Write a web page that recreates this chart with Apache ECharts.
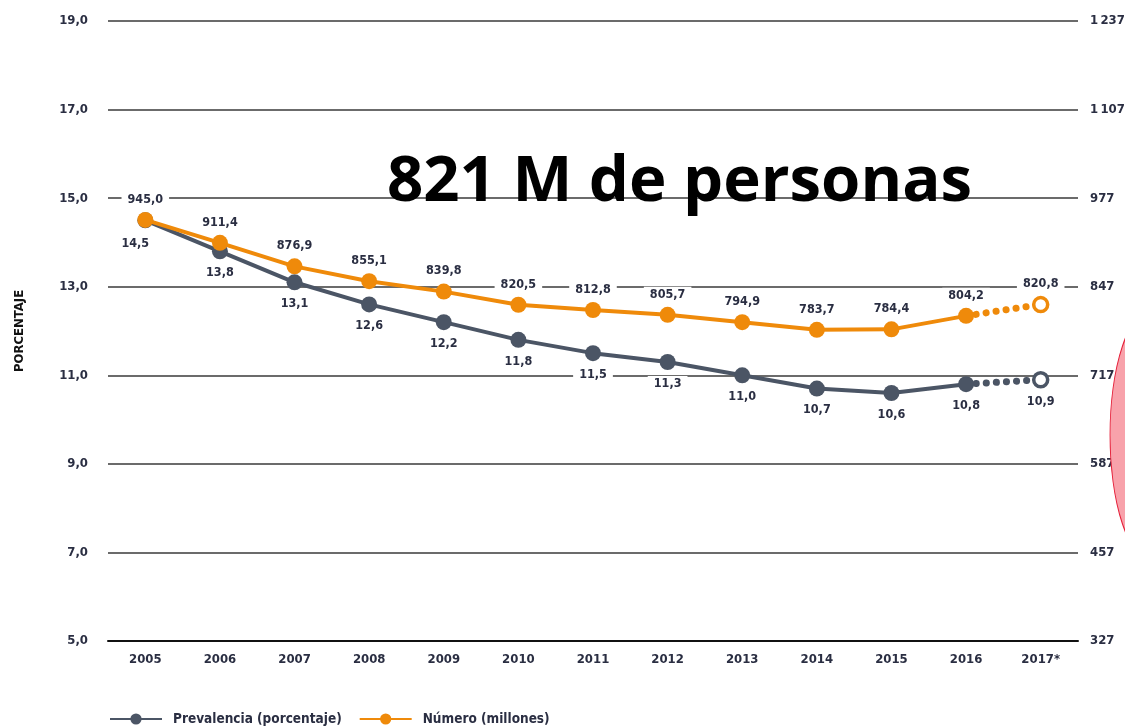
<!DOCTYPE html>
<html><head><meta charset="utf-8">
<script src="https://cdn.jsdelivr.net/npm/echarts@6/dist/echarts.min.js"></script>
<style>html,body{margin:0;padding:0;background:#fff}#c{width:1125px;height:728px}</style>
</head><body><div id="c"></div>
<script>
const years = ['2005','2006','2007','2008','2009','2010','2011','2012','2013','2014','2015','2016','2017*'];
const prevalencia = [14.5, 13.8, 13.1, 12.6, 12.2, 11.8, 11.5, 11.3, 11.0, 10.7, 10.6, 10.8, 10.9];
const numero = [945.0, 911.4, 876.9, 855.1, 839.8, 820.5, 812.8, 805.7, 794.9, 783.7, 784.4, 804.2, 820.8];
const leftTicks = {min: 5, max: 19, interval: 2};
const rightTicks = {min: 327, max: 1237, interval: 130};
const seriesNames = ['Prevalencia (porcentaje)', 'Número (millones)'];
const overlayText = '821 M de personas';

const GRAY = '#4b5565', ORANGE = '#ef8a0a', TXT = '#2a2e42';
const FONT = "'DejaVu Sans',sans-serif";
const FW = 'condensed bold';
const fmt = v => Number(v).toFixed(1).replace('.', ',');
const n = years.length;

function solid(arr) { return arr.map((v, i) => i < n - 1 ? v : '-'); }
function proj(arr, color) {
  return arr.map((v, i) => {
    if (i === n - 2) return {value: v, symbol: 'none', label: {show: false}};
    if (i === n - 1) return {value: v, symbol: 'circle', symbolSize: 14,
      itemStyle: {color: '#fff', borderColor: color, borderWidth: 3.5}};
    return '-';
  });
}
const baseLabel = (pos) => ({
  show: true, position: pos, distance: 6,
  formatter: p => fmt(p.value), color: TXT, fontFamily: FONT, fontWeight: FW, fontSize: 12.5,
  backgroundColor: '#fff', padding: [1, 6, 0, 6]
});

const grayData = solid(prevalencia).map((v, i) => i === 0 ? {value: v, label: {offset: [-10, 2]}} : v);

const chart = echarts.init(document.getElementById('c'), null, {renderer: 'canvas'});
chart.setOption({
  animation: false,
  backgroundColor: '#fff',
  grid: {left: 108, right: 47, top: 21, bottom: 87, containLabel: false, outerBoundsMode: 'none'},
  legend: {
    data: [{name: seriesNames[0]}, {name: seriesNames[1]}],
    left: 104, top: 707, itemWidth: 52, itemHeight: 14, itemGap: 17,
    textStyle: {color: TXT, fontFamily: FONT, fontWeight: FW, fontSize: 13.5, padding: [0, 0, 0, 6]}
  },
  xAxis: {
    type: 'category', data: years, boundaryGap: true,
    axisLine: {show: true, lineStyle: {color: '#111', width: 2}},
    axisTick: {show: false},
    axisLabel: {color: TXT, fontFamily: FONT, fontWeight: FW, fontSize: 13, margin: 12}
  },
  yAxis: [
    {type: 'value', min: leftTicks.min, max: leftTicks.max, interval: leftTicks.interval,
     name: 'PORCENTAJE', nameLocation: 'middle', nameGap: 82, nameRotate: 90,
     nameTextStyle: {color: '#111', fontFamily: FONT, fontWeight: FW, fontSize: 13},
     axisLine: {show: false}, axisTick: {show: false},
     axisLabel: {formatter: v => fmt(v), color: TXT, fontFamily: FONT, fontWeight: FW, fontSize: 13, margin: 20},
     splitLine: {show: true, lineStyle: {color: '#3a3a3a', width: 1.6}}},
    {type: 'value', min: rightTicks.min, max: rightTicks.max, interval: rightTicks.interval, position: 'right',
     axisLine: {show: false}, axisTick: {show: false},
     axisLabel: {formatter: v => String(Math.round(v)).replace(/\B(?=(\d{3})+(?!\d))/g, '\u2009'),
       color: TXT, fontFamily: FONT, fontWeight: FW, fontSize: 13, margin: 12},
     splitLine: {show: false}}
  ],
  series: [
    {name: seriesNames[0], type: 'line', yAxisIndex: 0, data: grayData, z: 3,
     symbol: 'circle', symbolSize: 16, itemStyle: {color: GRAY},
     lineStyle: {color: GRAY, width: 4}, label: baseLabel('bottom')},
    {name: 'g_proj', type: 'line', yAxisIndex: 0, data: proj(prevalencia, GRAY), z: 3,
     itemStyle: {color: GRAY}, lineStyle: {color: GRAY, width: 7, type: [0.1, 10], cap: 'round'},
     label: baseLabel('bottom')},
    {name: seriesNames[1], type: 'line', yAxisIndex: 1, data: solid(numero), z: 4,
     symbol: 'circle', symbolSize: 16, itemStyle: {color: ORANGE},
     lineStyle: {color: ORANGE, width: 4}, label: baseLabel('top')},
    {name: 'o_proj', type: 'line', yAxisIndex: 1, data: proj(numero, ORANGE), z: 4,
     itemStyle: {color: ORANGE}, lineStyle: {color: ORANGE, width: 7, type: [0.1, 10], cap: 'round'},
     label: baseLabel('top')}
  ],
  graphic: [
    {type: 'text', left: 387, top: 151, z: 100,
     style: {text: overlayText, fill: '#000', font: "bold 63.5px 'Open Sans', Lato, sans-serif"}},
    {type: 'circle', shape: {cx: 0, cy: 0, r: 100}, x: 1152, y: 435, scaleX: 0.42, scaleY: 1.25, z: 100,
     style: {fill: '#f8a2ab', stroke: '#e5203a', lineWidth: 2}}
  ]
});
</script></body></html>
